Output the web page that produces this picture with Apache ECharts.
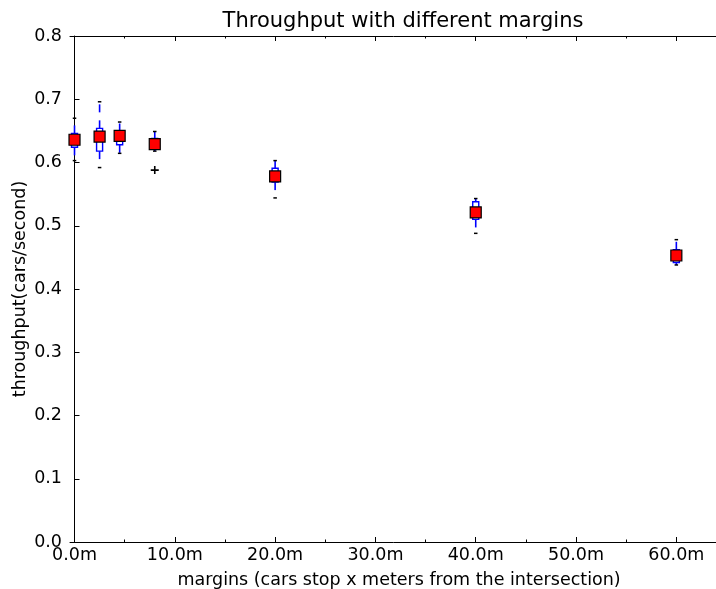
<!DOCTYPE html>
<html lang="en">
  <head>
    <meta charset="UTF-8" />
    <title>Throughput with different margins</title>
    <script src="https://cdn.jsdelivr.net/npm/echarts@6/dist/echarts.min.js"></script>
    <style>
      html, body { margin: 0; padding: 0; background: #fff; }
    </style>
  </head>
  <body>
    <div id="main" style="width: 716px; height: 589px"></div>
    <script type="text/javascript">
      // box positions (meters) and box statistics (cars/second)
      const positions = [0, 2.5, 4.5, 8, 20, 40, 60];
      const whiskerLow = [0.603, 0.592, 0.6145, 0.618, 0.544, 0.488, 0.438];
      const q1 = [0.624, 0.618, 0.628, 0.622, 0.569, 0.51, 0.442];
      const medians = [0.635, 0.641, 0.642, 0.629, 0.578, 0.521, 0.453];
      const q3 = [0.646, 0.654, 0.649, 0.638, 0.591, 0.538, 0.462];
      const whiskerHigh = [0.67, 0.696, 0.664, 0.649, 0.603, 0.543, 0.478];
      const means = [0.636, 0.641, 0.642, 0.629, 0.578, 0.521, 0.453];
      const fliers = [[8, 0.588]];

      const xMajor = [0, 10, 20, 30, 40, 50, 60];
      const xMinor = [5, 15, 25, 35, 45, 55];

      const font = "DejaVu Sans";
      const xMin = -0.45;
      const xMax = 65.15;

      let myChart = echarts.init(document.getElementById("main"));

      const boxData = positions.map((p, i) => [
        p, whiskerLow[i], q1[i], medians[i], q3[i], whiskerHigh[i],
      ]);

      function renderBox(params, api) {
        const x = api.value(0);
        const pLo = api.coord([x, api.value(1)]);
        const pQ1 = api.coord([x, api.value(2)]);
        const pMed = api.coord([x, api.value(3)]);
        const pQ3 = api.coord([x, api.value(4)]);
        const pHi = api.coord([x, api.value(5)]);
        const half = api.size([0.6, 0])[0] / 2;
        const capHalf = api.size([0.35, 0])[0] / 2;
        const blue = "#0000ff";
        return {
          type: "group",
          children: [
            {
              type: "line",
              shape: { x1: pQ1[0], y1: pQ1[1], x2: pLo[0], y2: pLo[1] },
              style: { stroke: blue, lineWidth: 1.6, lineDash: [8, 8] },
            },
            {
              type: "line",
              shape: { x1: pQ3[0], y1: pQ3[1], x2: pHi[0], y2: pHi[1] },
              style: { stroke: blue, lineWidth: 1.6, lineDash: [8, 8] },
            },
            {
              type: "rect",
              shape: { x: pQ3[0] - half, y: pQ3[1], width: half * 2, height: pQ1[1] - pQ3[1] },
              style: { fill: "#fff", stroke: blue, lineWidth: 1.4 },
            },
            {
              type: "line",
              shape: { x1: pMed[0] - half, y1: pMed[1], x2: pMed[0] + half, y2: pMed[1] },
              style: { stroke: "#ff0000", lineWidth: 1 },
            },
            {
              type: "line",
              shape: { x1: pLo[0] - capHalf, y1: pLo[1], x2: pLo[0] + capHalf, y2: pLo[1] },
              style: { stroke: "#000", lineWidth: 1.5 },
            },
            {
              type: "line",
              shape: { x1: pHi[0] - capHalf, y1: pHi[1], x2: pHi[0] + capHalf, y2: pHi[1] },
              style: { stroke: "#000", lineWidth: 1.5 },
            },
          ],
        };
      }

      function xAxisDef(position, ticks, len, withLine, withLabels) {
        return {
          type: "value",
          position: position,
          min: xMin,
          max: xMax,
          splitLine: { show: false },
          axisLine: { show: withLine, onZero: false, lineStyle: { color: "#000", width: 1 } },
          axisTick: {
            show: true,
            inside: true,
            length: len,
            customValues: ticks,
            lineStyle: { color: "#000", width: 1 },
          },
          axisLabel: {
            show: withLabels,
            customValues: ticks,
            formatter: (v) => v.toFixed(1) + "m",
            color: "#000",
            fontFamily: font,
            fontSize: 17.5,
            margin: 4,
          },
        };
      }

      const bottomAxis = xAxisDef("bottom", xMajor, 5, true, true);
      bottomAxis.name = "margins (cars stop x meters from the intersection)";
      bottomAxis.nameLocation = "middle";
      bottomAxis.nameGap = 29;
      bottomAxis.nameMoveOverlap = false;
      bottomAxis.nameTextStyle = { color: "#000", fontFamily: font, fontSize: 17.5 };

      let options = {
        animation: false,
        backgroundColor: "#fff",
        title: {
          text: "Throughput with different margins",
          left: 398,
          textAlign: "center",
          top: 6,
          textStyle: { color: "#000", fontFamily: font, fontSize: 21, fontWeight: "normal" },
        },
        grid: {
          left: 70,
          right: -12,
          top: 36,
          bottom: 47,
          containLabel: false,
          outerBoundsMode: "none",
        },
        xAxis: [
          bottomAxis,
          xAxisDef("bottom", xMinor, 2.5, false, false),
          xAxisDef("top", xMajor, 5, true, false),
          xAxisDef("top", xMinor, 2.5, false, false),
        ],
        yAxis: {
          type: "value",
          min: 0,
          max: 0.8,
          interval: 0.1,
          name: "throughput(cars/second)",
          nameLocation: "middle",
          nameGap: 41,
          nameMoveOverlap: false,
          nameTextStyle: { color: "#000", fontFamily: font, fontSize: 17.5 },
          splitLine: { show: false },
          axisLine: { show: true, lineStyle: { color: "#000", width: 1 } },
          axisTick: { inside: true, length: 5, lineStyle: { color: "#000" } },
          axisLabel: {
            formatter: (v) => v.toFixed(1),
            color: "#000",
            fontFamily: font,
            fontSize: 17.5,
            margin: 8,
          },
        },
        series: [
          {
            type: "custom",
            xAxisIndex: 0,
            renderItem: renderBox,
            data: boxData,
            encode: { x: 0, y: [1, 2, 3, 4, 5] },
            z: 2,
          },
          {
            type: "scatter",
            xAxisIndex: 0,
            data: positions.map((p, i) => [p, means[i]]),
            symbol: "rect",
            symbolSize: 11,
            itemStyle: { color: "#ff0000", borderColor: "#000", borderWidth: 1.2, opacity: 1 },
            z: 5,
          },
          {
            type: "scatter",
            xAxisIndex: 0,
            data: fliers,
            symbol: "path://M4,0h2v4h4v2h-4v4h-2v-4h-4v-2h4z",
            symbolSize: 8,
            itemStyle: { color: "#000", opacity: 1 },
            z: 5,
          },
        ],
      };

      myChart.setOption(options);
    </script>
  </body>
</html>
